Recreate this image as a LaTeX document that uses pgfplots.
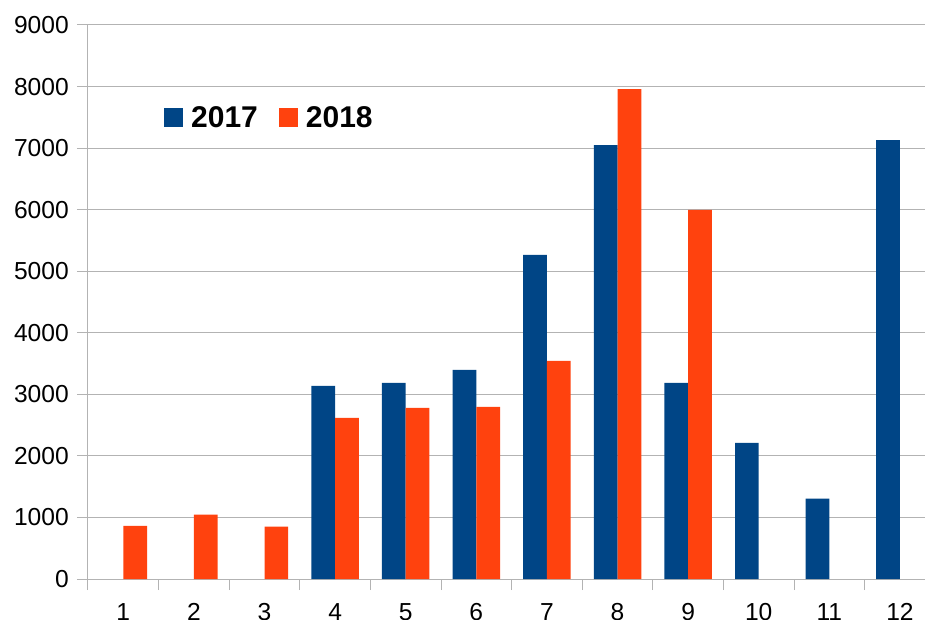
\documentclass[border=0pt]{standalone}
\usepackage{fontspec}
\setmainfont{Liberation Sans}
\usepackage{pgfplots}
\pgfplotsset{compat=1.18}
\definecolor{c17}{HTML}{004586}
\definecolor{c18}{HTML}{FF420E}
\definecolor{gridc}{HTML}{B3B3B3}
\begin{document}
\begin{tikzpicture}
\begin{axis}[
  at={(0,0)}, anchor=south west,
  scale only axis, width=837bp, height=554bp,
  xmin=0.5, xmax=12.355, ymin=0, ymax=9000,
  axis lines=left, axis line style={-, draw=gridc, line width=1bp},
  ybar, bar width=0.336,
  ytick={0,1000,...,9000},
  ymajorgrids, grid style={draw=gridc, line width=1bp},
  xtick={0.5,1.5,...,11.5}, xticklabels={},
  extra x ticks={1,2,3,4,5,6,7,8,9,10,11,12},
  extra x tick labels={1,2,3,4,5,6,7,8,9,10,11,12},
  extra x tick style={major tick length=0pt, grid=none},
  tick align=outside, major tick length=11bp,
  tick style={draw=gridc, line width=1bp},
  tick label style={font=\fontsize{24.6bp}{28bp}\selectfont, text=black},
  yticklabel style={inner sep=0pt, xshift=-8bp},
  xticklabel style={inner sep=0pt, yshift=-24bp},
  /pgf/number format/.cd, 1000 sep={}, assume math mode=true, /pgfplots/.cd,
  legend columns=2,
  legend style={at={(0.0908,0.833)}, anchor=west, draw=none, fill=none, inner sep=0pt,
    font=\bfseries\fontsize{30bp}{30bp}\selectfont, column sep=8bp, nodes={inner sep=0pt},
    /tikz/every even column/.append style={column sep=21bp}},
  legend image code/.code={\fill[#1,draw=none] (0bp,-9.5bp) rectangle (19bp,9.5bp);},
]
\addplot[fill=c17, draw=none, bar shift=-0.168] coordinates {
(4,3138) (5,3187) (6,3398) (7,5265) (8,7050) (9,3187) (10,2213) (11,1304) (12,7131)};
\addplot[fill=c18, draw=none, bar shift=0.168] coordinates {
(1,865) (2,1044) (3,849) (4,2618) (5,2781) (6,2797) (7,3544) (8,7960) (9,5995)};
\legend{2017,2018}
\end{axis}
\pgfresetboundingbox
\useasboundingbox (-88bp,-41bp) rectangle (837bp,579bp);
\end{tikzpicture}
\end{document}
